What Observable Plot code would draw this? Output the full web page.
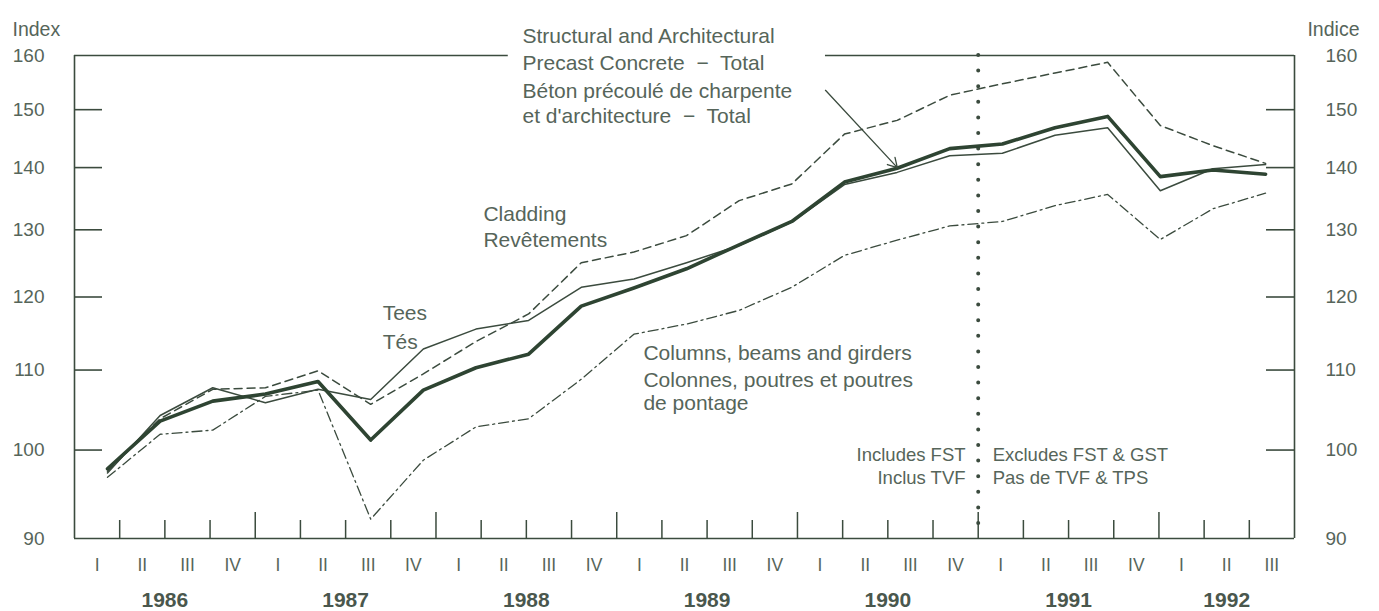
<!DOCTYPE html>
<html>
<head>
<meta charset="utf-8">
<script src="https://cdn.jsdelivr.net/npm/d3@7"></script>
<script src="https://cdn.jsdelivr.net/npm/@observablehq/plot@0.6"></script>
<style>
  html, body { margin: 0; padding: 0; background: #ffffff; }
  #chart svg { display: block; }
</style>
</head>
<body>
<div id="chart"></div>
<script>
// ---- Axis categories ----
const years = [1986, 1987, 1988, 1989, 1990, 1991, 1992];
const quartersPerYear = [4, 4, 4, 4, 4, 4, 3];
const quarterNames = ["I", "II", "III", "IV"];
const yTicks = [90, 100, 110, 120, 130, 140, 150, 160];

const total    = [97.8, 103.5, 106.0, 106.9, 108.5, 101.2, 107.4, 110.3, 112.1, 118.7, 121.3, 124.1, 127.7, 131.3, 137.6, 139.9, 143.2, 144.0, 146.8, 148.8, 138.5, 139.6, 138.9];
const tees     = [97.3, 104.2, 107.7, 105.8, 107.5, 106.2, 112.8, 115.5, 116.7, 121.4, 122.6, 125.0, 127.6, 131.2, 137.2, 139.2, 142.0, 142.4, 145.5, 146.8, 136.2, 139.8, 140.5];
const cladding = [97.5, 103.8, 107.5, 107.7, 109.9, 105.6, 109.5, 113.8, 117.6, 125.0, 126.6, 129.1, 134.6, 137.3, 145.7, 148.1, 152.6, 154.7, 156.7, 158.7, 147.2, 143.7, 140.7];
const columns  = [96.8, 101.9, 102.4, 106.6, 107.4, 92.1, 98.8, 102.8, 103.8, 108.8, 114.8, 116.2, 118.1, 121.4, 126.1, 128.4, 130.6, 131.3, 133.8, 135.6, 128.5, 133.3, 135.8];

// ---- Layout (x in quarter units from 1986 I start, y in index units) ----
const obsFirst = 0.73;   // where the first observation sits on the quarter axis
const obsStep = 1.165;   // spacing of observations on the quarter axis
const taxBreak = 20;     // 1990 IV / 1991 I boundary

const ink = "#3b4b3e";
const textInk = "#56655a";
const font = "'Liberation Sans', Arial, Helvetica, sans-serif";

const W = 1379, H = 611, mL = 74, mR = 85, mT = 55, mB = 73;
const frameW = W - mL - mR, frameH = H - mT - mB;

// quarters table
const quarters = years.flatMap((yr, yi) => d3.range(quartersPerYear[yi]).map(q => ({year: yr, q: quarterNames[q]})));
const nQ = quarters.length;
let acc = 0;
const yearCenters = years.map((yr, yi) => { const c = acc + quartersPerYear[yi] / 2; acc += quartersPerYear[yi]; return {year: yr, c}; });
const innerTicks = d3.range(1, nQ);
const yearBounds = [];
acc = 0;
quartersPerYear.slice(0, -1).forEach(n => { acc += n; yearBounds.push(acc); });
const shortTicks = innerTicks.filter(t => !yearBounds.includes(t));

const seriesList = [
  {name: "Total", values: total},
  {name: "Tees", values: tees},
  {name: "Cladding", values: cladding},
  {name: "Columns", values: columns}
];
const table = seriesList.flatMap(s => s.values.map((v, i) => ({series: s.name, t: obsFirst + i * obsStep, v})));
const of = name => table.filter(d => d.series === name);

const annotations = [
  {text: "Structural and Architectural", x: 9.915, y: 163.7},
  {text: "Precast Concrete  \u2212  Total", x: 9.915, y: 158.5},
  {text: "Béton précoulé de charpente", x: 9.915, y: 153.3},
  {text: "et d'architecture  \u2212  Total", x: 9.915, y: 148.8},
  {text: "Cladding", x: 9.05, y: 132.5},
  {text: "Revêtements", x: 9.05, y: 128.4},
  {text: "Tees", x: 6.82, y: 117.7},
  {text: "Tés", x: 6.82, y: 113.7},
  {text: "Columns, beams and girders", x: 12.59, y: 112.2},
  {text: "Colonnes, poutres et poutres", x: 12.59, y: 108.7},
  {text: "de pontage", x: 12.59, y: 105.7}
];
const taxNotes = [
  {text: "Includes FST", x: taxBreak - 0.28, y: 99.4, anchor: "end"},
  {text: "Inclus TVF", x: taxBreak - 0.28, y: 96.7, anchor: "end"},
  {text: "Excludes FST & GST", x: taxBreak + 0.32, y: 99.4, anchor: "start"},
  {text: "Pas de TVF & TPS", x: taxBreak + 0.32, y: 96.7, anchor: "start"}
];

const chart = Plot.plot({
  width: W, height: H,
  marginLeft: mL, marginRight: mR, marginTop: mT, marginBottom: mB,
  style: {fontFamily: font, background: "#ffffff", overflow: "visible"},
  x: {type: "linear", domain: [0, nQ], axis: null},
  y: {type: "log", domain: [90, 160], axis: null},
  marks: [
    // frame
    Plot.ruleX([0, nQ], {x: d => d, stroke: ink, strokeWidth: 1.6}),
    Plot.ruleY([90], {y: d => d, stroke: ink, strokeWidth: 1.6}),
    Plot.ruleY([{x1: 0, x2: 9.6}, {x1: 16.62, x2: nQ}], {y: () => 160, x1: "x1", x2: "x2", stroke: ink, strokeWidth: 1.6}),
    // y ticks inward on both sides
    Plot.tickY(yTicks.slice(1, -1), {y: d => d, insetRight: frameW - 28, stroke: ink, strokeWidth: 1.6}),
    Plot.tickY(yTicks.slice(1, -1), {y: d => d, insetLeft: frameW - 28, stroke: ink, strokeWidth: 1.6}),
    // x ticks upward
    Plot.tickX(shortTicks, {x: d => d, insetTop: frameH - 18, stroke: ink, strokeWidth: 1.5}),
    Plot.tickX(yearBounds, {x: d => d, insetTop: frameH - 26, stroke: ink, strokeWidth: 1.5}),
    // tax-break dotted line
    Plot.ruleX([taxBreak], {x: d => d, stroke: ink, strokeWidth: 4, strokeDasharray: "0,15.6", strokeLinecap: "round"}),
    // y labels
    Plot.text(yTicks, {x: () => 0, y: d => d, text: d => String(d), dx: -30, textAnchor: "end", fontSize: 19, fill: textInk}),
    Plot.text(yTicks, {x: () => nQ, y: d => d, text: d => String(d), dx: 31, textAnchor: "start", fontSize: 19, fill: textInk}),
    Plot.text(["Index"], {frameAnchor: "top-left", text: d => d, dx: -62, dy: -33, textAnchor: "start", fontSize: 19.5, fill: textInk}),
    Plot.text(["Indice"], {frameAnchor: "top-right", text: d => d, dx: 65, dy: -33, textAnchor: "end", fontSize: 19.5, fill: textInk}),
    // quarter and year labels
    Plot.text(quarters, {x: (d, i) => i + 0.5, y: () => 90, text: "q", dy: 27, fontSize: 17.5, fill: textInk}),
    Plot.text(yearCenters, {x: "c", y: () => 90, text: d => String(d.year), dy: 62, fontSize: 21, fontWeight: "bold", fill: "#4a574d"}),
    // series
    Plot.line(of("Columns"), {x: "t", y: "v", stroke: ink, strokeWidth: 1.3, strokeDasharray: "10,4,2,4"}),
    Plot.line(of("Cladding"), {x: "t", y: "v", stroke: ink, strokeWidth: 1.5, strokeDasharray: "8,5"}),
    Plot.line(of("Tees"), {x: "t", y: "v", stroke: ink, strokeWidth: 1.5}),
    Plot.line(of("Total"), {x: "t", y: "v", stroke: "#2e4432", strokeWidth: 3.6, strokeLinejoin: "round"}),
    // annotations
    Plot.arrow([{x1: 16.62, y1: 153.5, x2: 18.21, y2: 140.0}], {x1: "x1", y1: "y1", x2: "x2", y2: "y2", stroke: ink, strokeWidth: 1.3, headLength: 12}),
    Plot.text(annotations, {x: "x", y: "y", text: "text", textAnchor: "start", fontSize: 21, fill: textInk}),
    Plot.text(taxNotes.filter(d => d.anchor === "end"), {x: "x", y: "y", text: "text", textAnchor: "end", fontSize: 18.5, fill: textInk}),
    Plot.text(taxNotes.filter(d => d.anchor === "start"), {x: "x", y: "y", text: "text", textAnchor: "start", fontSize: 18.5, fill: textInk})
  ]
});
document.getElementById("chart").appendChild(chart);
</script>
</body>
</html>
